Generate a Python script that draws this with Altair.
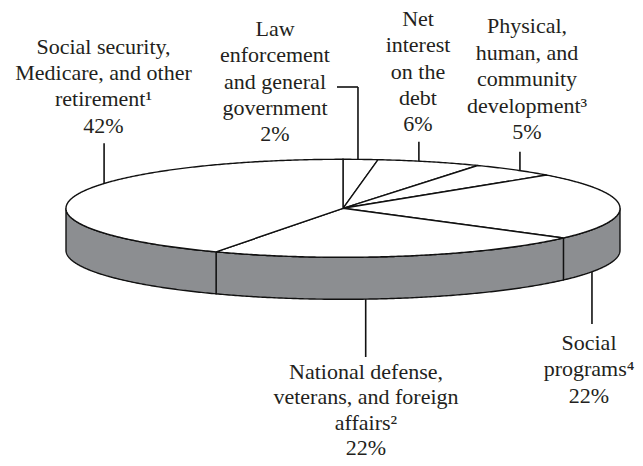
import altair as alt
import numpy as np

# ---- data ----
categories = [
    "Law enforcement and general government",
    "Net interest on the debt",
    "Physical, human, and community development",
    "Social programs",
    "National defense, veterans, and foreign affairs",
    "Social security, Medicare, and other retirement",
]
values = [2, 6, 5, 22, 22, 42]
label_texts = [
    "Law\nenforcement\nand general\ngovernment",
    "Net\ninterest\non the\ndebt",
    "Physical,\nhuman, and\ncommunity\ndevelopment\u00b3",
    "Social\nprograms\u2074",
    "National defense,\nveterans, and foreign\naffairs\u00b2",
    "Social security,\nMedicare, and other\nretirement\u00b9",
]

# ---- layout (pixel-like units of the drawing) ----
CX, CY, RX, RY, DEPTH = 343.0, 208.3, 277.0, 49.0, 42.0
label_x = [275, 418, 527, 589, 366, 103.5]
label_y = [36, 26, 33, 350, 379, 54]
label_lh = [26.3, 26.3, 26.5, 26.3, 25.3, 26.2]
leader_t = [3.1, 15.9, 39.7, 116.0, 175.3, 300.4]      # anchor angle on pie rim
leader_end_y = [87, 141.7, 151.7, 324, 357, 143.3]     # label end of leader
law_hook_x = 337
FONT = "Liberation Serif"


def rim(t_deg, dy=0.0):
    t = np.radians(t_deg)
    return float(CX + RX * np.sin(t)), float(CY - RY * np.cos(t) + dy)


total = float(sum(values))
bounds = np.concatenate([[0.0], np.cumsum(values) / total * 360.0])

tops, sides = [], []
for i, cat in enumerate(categories):
    t0, t1 = bounds[i], bounds[i + 1]
    ts = np.linspace(t0, t1, max(3, int((t1 - t0) * 2) + 2))
    ring = [[CX, CY]] + [list(rim(t)) for t in ts] + [[CX, CY]]
    tops.append({"type": "Feature", "properties": {"name": cat},
                 "geometry": {"type": "Polygon", "coordinates": [ring]}})
    a, b = max(t0, 90.0), min(t1, 270.0)
    if b > a:
        ss = np.linspace(a, b, max(3, int((b - a) * 2) + 2))
        upper = [list(rim(t)) for t in ss]
        lower = [list(rim(t, DEPTH)) for t in ss[::-1]]
        ring = upper + lower + [upper[0]]
        sides.append({"type": "Feature", "properties": {"name": cat},
                      "geometry": {"type": "Polygon", "coordinates": [ring]}})

rules = []
text_layers = []
proj = dict(type="identity", scale=1, translate=[-8, -8])
for i in range(len(categories)):
    t = leader_t[i]
    front = 90 < t < 270
    ax, ay = rim(t, DEPTH if front else 0.0)
    rules.append({"lon": ax, "lat": ay, "lon2": ax, "lat2": leader_end_y[i]})
    if i == 0:
        rules.append({"lon": law_hook_x, "lat": leader_end_y[i],
                      "lon2": ax, "lat2": leader_end_y[i]})
    lab = [{"lon": label_x[i], "lat": label_y[i],
            "label": label_texts[i] + "\n" + f"{values[i]}%"}]
    text_layers.append(
        alt.Chart(alt.Data(values=lab)).mark_text(
            font=FONT, fontSize=22, lineHeight=label_lh[i], lineBreak="\n",
            align="center", baseline="alphabetic", color="#231f20"
        ).encode(
            longitude="lon:Q", latitude="lat:Q", text="label:N"
        ).project(**proj)
    )

side_layer = alt.Chart(alt.Data(values=sides)).mark_geoshape(
    fill="#8c8e91", stroke="#111111", strokeWidth=1.4
).project(**proj)

top_layer = alt.Chart(alt.Data(values=tops)).mark_geoshape(
    fill="white", stroke="#111111", strokeWidth=1.4
).project(**proj)

rule_layer = alt.Chart(alt.Data(values=rules)).mark_rule(
    color="#111111", strokeWidth=1.6
).encode(
    longitude="lon:Q", latitude="lat:Q", longitude2="lon2:Q", latitude2="lat2:Q"
).project(**proj)

chart = alt.layer(side_layer, top_layer, rule_layer, *text_layers).properties(
    width=627, height=450, padding=0
).configure_view(strokeWidth=0)

chart.save("out.html", embed_options={"renderer": "svg", "actions": False})
